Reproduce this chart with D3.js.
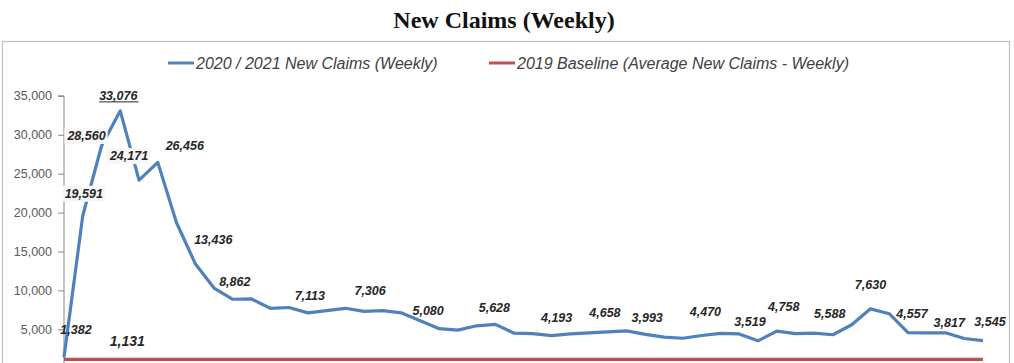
<!DOCTYPE html>
<html>
<head>
<meta charset="utf-8">
<script src="https://cdnjs.cloudflare.com/ajax/libs/d3/7.8.5/d3.min.js"></script>
<style>
  html, body { margin: 0; padding: 0; background: #ffffff; }
  svg { display: block; }
</style>
</head>
<body>
<svg id="chart" width="1014" height="363"></svg>
<script>
// ---------- data ----------
const title = "New Claims (Weekly)";
const seriesNames = ["2020 / 2021 New Claims (Weekly)", "2019 Baseline (Average New Claims - Weekly)"];
const weeks = d3.range(50); // weekly points
const newClaims = [
  1382, 19591, 28560, 33076, 24171, 26456, 18700, 13436, 10300, 8862,
  8900, 7700, 7800, 7113, 7400, 7700, 7306, 7400, 7100, 6100,
  5080, 4900, 5450, 5628, 4500, 4450, 4193, 4400, 4550, 4658,
  4800, 4350, 3993, 3850, 4200, 4470, 4400, 3519, 4758, 4450,
  4500, 4300, 5588, 7630, 7000, 4557, 4550, 4550, 3817, 3545
];
const baseline2019 = 1131;
const yTicks = [5000, 10000, 15000, 20000, 25000, 30000, 35000];
const labelWeeks = [0, 1, 2, 3, 4, 5, 7, 9, 13, 16, 20, 23, 26, 29, 32, 35, 37, 38, 42, 43, 45, 48, 49];

// ---------- layout (label nudges, in px) ----------
const labelNudge = {
  0: [12, -23], 1: [1, -18], 2: [-15, -6], 3: [-2, -11], 4: [-10, -20], 5: [27, -12],
  7: [18, -20], 9: [2, -13], 13: [2, -13], 16: [6, -16], 20: [-11, -14], 23: [-1, -12],
  26: [5, -14], 29: [-3, -15], 32: [-17, -15], 35: [-15, -17], 37: [-8, -15], 38: [7, -20],
  42: [-22, -7], 43: [0, -20], 45: [4, -15], 48: [-15, -12], 49: [7, -15]
};
const boxedLabels = new Set([1, 2, 4]);

const svg = d3.select("#chart");
const fmt = d3.format(",");

// frame
svg.append("rect").attr("x", 2.5).attr("y", 41.5).attr("width", 1007).attr("height", 340)
  .attr("fill", "#ffffff").attr("stroke", "#bfbfbf").attr("stroke-width", 1.2);

// title
svg.append("text").attr("x", 504).attr("y", 28).attr("text-anchor", "middle")
  .attr("font-family", "'Liberation Serif', 'Times New Roman', serif")
  .attr("font-weight", "bold").attr("font-size", 24).attr("fill", "#111")
  .text(title);

// scales
const x = d3.scaleLinear().domain([0, weeks.length - 1]).range([64, 983]);
const y = d3.scaleLinear().domain([0, 35000]).range([368.2, 95.9]);

// y axis
const yAxis = d3.axisLeft(y).tickValues(yTicks).tickFormat(fmt).tickSize(6).tickPadding(6);
const gy = svg.append("g").attr("transform", "translate(64,0)").call(yAxis);
gy.select(".domain").attr("stroke", "#868686").attr("d", `M-6,${y(35000)}H0V${y(0)}`);
gy.selectAll(".tick line").attr("stroke", "#868686");
gy.selectAll(".tick text").attr("fill", "#595959")
  .attr("font-family", "'Liberation Sans', Arial, sans-serif").attr("font-size", 12.5);

// baseline series
svg.append("line")
  .attr("x1", x(0)).attr("x2", x(weeks.length - 1))
  .attr("y1", y(baseline2019)).attr("y2", y(baseline2019))
  .attr("stroke", "#c0504d").attr("stroke-width", 3.4);

// claims line
const line = d3.line().x((d, i) => x(weeks[i])).y(d => y(d));
svg.append("path").datum(newClaims).attr("d", line)
  .attr("fill", "none").attr("stroke", "#4f81bd").attr("stroke-width", 3.2)
  .attr("stroke-linejoin", "round");

// data labels
const lblFont = "'Liberation Sans', Arial, sans-serif";
const lg = svg.append("g");
labelWeeks.forEach(i => {
  const [dx, dy] = labelNudge[i] || [0, -14];
  const cx = x(weeks[i]) + dx, by = y(newClaims[i]) + dy;
  const g = lg.append("g");
  const t = g.append("text").attr("x", cx).attr("y", by).attr("text-anchor", "middle")
    .attr("font-family", lblFont).attr("font-size", 12.5).attr("font-weight", "bold")
    .attr("font-style", "italic").attr("fill", "#262626").text(fmt(newClaims[i]));
  if (boxedLabels.has(i)) {
    const bb = t.node().getBBox();
    g.insert("rect", "text").attr("x", bb.x - 2).attr("y", bb.y - 1)
      .attr("width", bb.width + 4).attr("height", bb.height + 2).attr("fill", "#f7f7f7");
  }
  if (i === 3) {
    const bb = t.node().getBBox();
    g.append("line").attr("x1", bb.x).attr("x2", bb.x + bb.width)
      .attr("y1", by + 2).attr("y2", by + 2).attr("stroke", "#262626").attr("stroke-width", 1);
  }
});
// baseline label
svg.append("text").attr("x", x(3) + 7).attr("y", y(baseline2019) - 13).attr("text-anchor", "middle")
  .attr("font-family", lblFont).attr("font-size", 14).attr("font-weight", "bold")
  .attr("font-style", "italic").attr("fill", "#262626").text(fmt(baseline2019));

// legend
const legend = [
  { name: seriesNames[0], color: "#4f81bd", x0: 168 },
  { name: seriesNames[1], color: "#c0504d", x0: 489 }
];
legend.forEach(l => {
  svg.append("line").attr("x1", l.x0).attr("x2", l.x0 + 26).attr("y1", 63).attr("y2", 63)
    .attr("stroke", l.color).attr("stroke-width", 3);
  svg.append("text").attr("x", l.x0 + 28).attr("y", 68.5)
    .attr("font-family", "'Liberation Sans Narrow', 'Liberation Sans', Arial, sans-serif")
    .attr("font-size", 16).attr("font-style", "italic").attr("fill", "#404040").text(l.name);
});
</script>
</body>
</html>
